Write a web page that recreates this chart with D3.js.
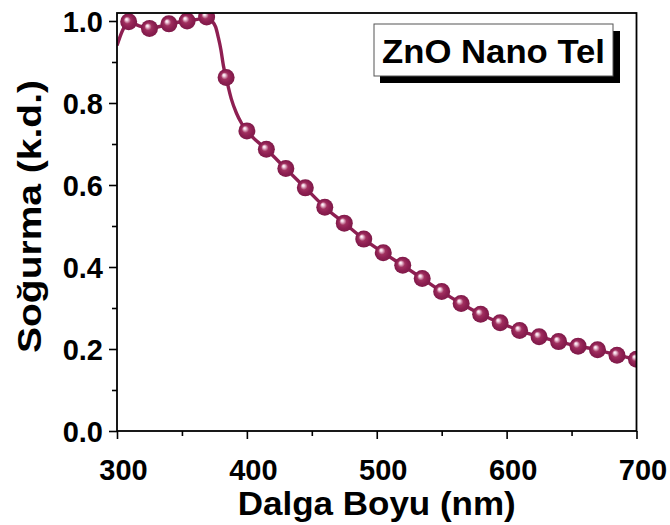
<!DOCTYPE html>
<html><head><meta charset="utf-8">
<script src="https://cdn.jsdelivr.net/npm/d3@7"></script>
<style>html,body{margin:0;padding:0;background:#fff;}svg{display:block;}</style>
</head><body>
<svg id="chart" width="670" height="525"></svg>
<script>
// Marker data (wavelength nm, absorbance a.u.)
const markerWavelength = [309,325,340,354,369,384,400,415,430,445,460,475,490,505,520,535,550,565,580,595,610,625,640,655,670,685,700];
const markerAbsorbance = [0.998,0.982,0.993,1.000,1.010,0.862,0.732,0.687,0.640,0.593,0.546,0.507,0.468,0.435,0.404,0.372,0.340,0.311,0.285,0.264,0.245,0.230,0.218,0.207,0.198,0.185,0.175];
// Line data
const lineWavelength = [300,304,309,317,325,332,340,347,354,362,369,373,376,378,380,382,384,388,392,396,400,415,430,445,460,475,490,505,520,535,550,565,580,595,610,625,640,655,670,685,700];
const lineAbsorbance = [0.940,0.975,0.998,0.988,0.982,0.986,0.993,0.997,1.000,1.004,1.010,1.000,0.985,0.960,0.930,0.890,0.862,0.810,0.775,0.750,0.732,0.687,0.640,0.593,0.546,0.507,0.468,0.435,0.404,0.372,0.340,0.311,0.285,0.264,0.245,0.230,0.218,0.207,0.198,0.185,0.175];
const xTicks = [300,400,500,600,700];
const xMinorTicks = [350,450,550,650];
const yTicks = [0.0,0.2,0.4,0.6,0.8,1.0];
const yMinorTicks = [0.1,0.3,0.5,0.7,0.9];
const xTitle = "Dalga Boyu (nm)";
const yTitle = "Soğurma (k.d.)";
const labelText = "ZnO Nano Tel";

const color = "#8e1f52";
const font = "'Liberation Sans', Arial, sans-serif";
const svg = d3.select("#chart");
const L = 117, R = 636.5, T = 13, B = 431;
const x = d3.scaleLinear().domain([300,700]).range([L,R]);
const y = d3.scaleLinear().domain([0,1.0195]).range([B,T]);

const defs = svg.append("defs");
const g = defs.append("radialGradient").attr("id","ball")
  .attr("cx","50%").attr("cy","50%").attr("r","50%").attr("fx","36%").attr("fy","34%");
[[0,"#ffffff"],[0.14,"#f3d3e2"],[0.42,"#a0305f"],[0.7,"#8e1f52"],[1,"#7e1a48"]]
  .forEach(([o,c])=>g.append("stop").attr("offset",o).attr("stop-color",c));
defs.append("clipPath").attr("id","clip").append("rect")
  .attr("x",L).attr("y",T).attr("width",R-L).attr("height",B-T);

// Line
const lineData = lineWavelength.map((w,i)=>[w,lineAbsorbance[i]]);
const plot = svg.append("g").attr("clip-path","url(#clip)");
plot.append("path").datum(lineData)
  .attr("d", d3.line().x(d=>x(d[0])).y(d=>y(d[1])).curve(d3.curveMonotoneX))
  .attr("fill","none").attr("stroke",color).attr("stroke-width",3.4);
// Markers
plot.selectAll("circle").data(markerWavelength.map((w,i)=>[w,markerAbsorbance[i]]))
  .enter().append("circle")
  .attr("cx",d=>x(d[0])).attr("cy",d=>y(d[1])).attr("r",8.5)
  .attr("fill","url(#ball)");

// Axes
const xAxis = d3.axisBottom(x).tickValues(xTicks).tickSize(8).tickFormat(d3.format("d"));
const xMinor = d3.axisBottom(x).tickValues(xMinorTicks).tickSize(5).tickFormat("");
const yAxis = d3.axisLeft(y).tickValues(yTicks).tickSize(8).tickFormat(d3.format(".1f"));
const yMinor = d3.axisLeft(y).tickValues(yMinorTicks).tickSize(5).tickFormat("");

function styleAxis(sel){
  sel.select(".domain").remove();
  sel.selectAll("line").attr("stroke","#000").attr("stroke-width",1.6);
  sel.selectAll("text").attr("fill","#000").style("font-family",font)
    .style("font-weight","bold").style("font-size","29px");
}
const gx = svg.append("g").attr("transform",`translate(0,${B})`).call(xAxis).call(styleAxis);
gx.selectAll("text").attr("dy",null).attr("y",49).attr("dx",6);
svg.append("g").attr("transform",`translate(0,${B})`).call(xMinor).call(styleAxis);
const gy = svg.append("g").attr("transform",`translate(${L},0)`).call(yAxis).call(styleAxis);
gy.selectAll("text").attr("x",-14).attr("dy","0.36em");
svg.append("g").attr("transform",`translate(${L},0)`).call(yMinor).call(styleAxis);

// Frame
svg.append("rect").attr("x",L).attr("y",T).attr("width",R-L).attr("height",B-T)
  .attr("fill","none").attr("stroke","#000").attr("stroke-width",1.8);

// Axis titles
svg.append("text").text(xTitle)
  .attr("x",(L+R)/2).attr("y",515).attr("text-anchor","middle")
  .attr("textLength",278).attr("lengthAdjust","spacingAndGlyphs")
  .style("font-family",font).style("font-weight","bold").style("font-size","34px");
svg.append("text").text(yTitle)
  .attr("transform","translate(41,216.5) rotate(-90)").attr("text-anchor","middle")
  .attr("textLength",273).attr("lengthAdjust","spacingAndGlyphs")
  .style("font-family",font).style("font-weight","bold").style("font-size","34px");

// Label box with shadow
svg.append("rect").attr("x",380).attr("y",31).attr("width",240).attr("height",52).attr("fill","#000");
svg.append("rect").attr("x",374).attr("y",24).attr("width",239).attr("height",52)
  .attr("fill","#fff").attr("stroke","#555").attr("stroke-width",1);
svg.append("text").text(labelText)
  .attr("x",493.5).attr("y",63).attr("text-anchor","middle")
  .attr("textLength",223).attr("lengthAdjust","spacingAndGlyphs")
  .style("font-family",font).style("font-weight","bold").style("font-size","34px");
</script>
</body></html>
